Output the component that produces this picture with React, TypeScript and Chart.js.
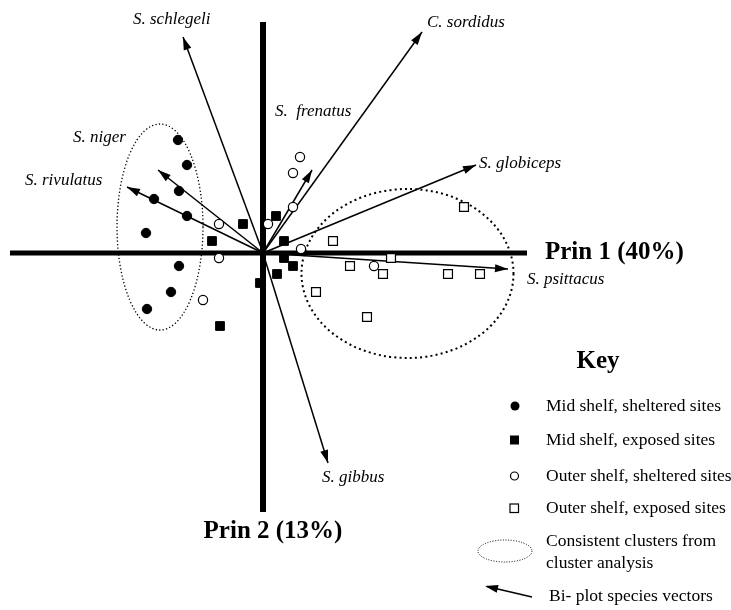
import React, { useEffect, useRef } from "react";
import { Chart, registerables } from "chart.js";

Chart.register(...registerables);

// ---- Data (principal component scores) ----
const midSheltered: [number, number][] = [
  [-0.85, 1.13], [-0.76, 0.88], [-0.84, 0.62], [-1.09, 0.54], [-0.76, 0.37],
  [-1.17, 0.2], [-0.84, -0.13], [-0.92, -0.39], [-1.16, -0.56],
];
const midExposed: [number, number][] = [
  [-0.2, 0.29], [0.13, 0.37], [-0.51, 0.12], [0.21, 0.12], [0.21, -0.05],
  [0.3, -0.13], [0.14, -0.21], [-0.03, -0.3], [-0.43, -0.73],
];
const outerSheltered: [number, number][] = [
  [0.37, 0.96], [0.3, 0.8], [0.3, 0.46], [0.05, 0.29], [-0.44, 0.29],
  [-0.44, -0.05], [0.38, 0.04], [-0.6, -0.47], [1.11, -0.13],
];
const outerExposed: [number, number][] = [
  [2.01, 0.46], [0.7, 0.12], [1.28, -0.05], [0.87, -0.13], [1.2, -0.21],
  [1.85, -0.21], [2.17, -0.21], [0.53, -0.39], [1.04, -0.64],
];

const vectorNames = [
  "S. schlegeli", "C. sordidus", "S.  frenatus", "S. globiceps",
  "S. psittacus", "S. gibbus", "S. niger", "S. rivulatus",
];
const vectorX = [-0.8, 1.59, 0.49, 2.13, 2.45, 0.65, -1.05, -1.36];
const vectorY = [2.16, 2.21, 0.83, 0.88, -0.16, -2.1, 0.83, 0.66];

// clusters: center x, center y, radius x, radius y
const clusterCX = [-1.03, 1.445];
const clusterCY = [0.26, -0.205];
const clusterRX = [0.43, 1.06];
const clusterRY = [1.03, 0.845];

const axisXExtent = [-2.53, 2.64];
const axisYExtent = [-2.59, 2.31];
const axisTitles = ["Prin 1 (40%)", "Prin 2 (13%)"];

const legendLabels = [
  "Mid shelf, sheltered sites",
  "Mid shelf, exposed sites",
  "Outer shelf, sheltered sites",
  "Outer shelf, exposed sites",
];

// ---- Styling / layout (not data) ----
const W = 731;
const H = 610;
const SERIF = '"Liberation Serif", "DejaVu Serif", serif';
// label offsets (px) from vector tips
const labelOffsets: [number, number][] = [
  [-50, -17], [5, -9], [-37, -58], [3, -1], [19, 11], [-6, 15], [-85, -32], [-102, -6],
];

const toPts = (arr: [number, number][]) => arr.map(([x, y]) => ({ x, y }));

const overlay = {
  id: "overlay",
  beforeDatasetsDraw(chart: any) {
    const ctx = chart.ctx;
    const xs = chart.scales.x;
    const ys = chart.scales.y;
    const widths = [1.3, 2];
    const dashes = [[1.3, 2.2], [2, 3.2]];
    ctx.save();
    for (let i = 0; i < clusterCX.length; i++) {
      const cx = xs.getPixelForValue(clusterCX[i]);
      const cy = ys.getPixelForValue(clusterCY[i]);
      const rx = Math.abs(xs.getPixelForValue(clusterCX[i] + clusterRX[i]) - cx);
      const ry = Math.abs(ys.getPixelForValue(clusterCY[i] + clusterRY[i]) - cy);
      ctx.beginPath();
      ctx.setLineDash(dashes[i]);
      ctx.lineWidth = widths[i];
      ctx.strokeStyle = "#000";
      ctx.ellipse(cx, cy, rx, ry, 0, 0, Math.PI * 2);
      ctx.stroke();
    }
    ctx.restore();
  },
  afterDatasetsDraw(chart: any) {
    const ctx = chart.ctx;
    const xs = chart.scales.x;
    const ys = chart.scales.y;
    const head = (tx: number, ty: number, fx: number, fy: number) => {
      const a = Math.atan2(ty - fy, tx - fx);
      const L = 13;
      const hw = 4;
      ctx.beginPath();
      ctx.moveTo(tx, ty);
      ctx.lineTo(tx - L * Math.cos(a) + hw * Math.sin(a), ty - L * Math.sin(a) - hw * Math.cos(a));
      ctx.lineTo(tx - L * Math.cos(a) - hw * Math.sin(a), ty - L * Math.sin(a) + hw * Math.cos(a));
      ctx.closePath();
      ctx.fill();
    };
    ctx.save();
    ctx.fillStyle = "#000";
    ctx.strokeStyle = "#000";
    // arrow heads + labels
    chart.data.datasets.forEach((ds: any, di: number) => {
      if (ds.kind !== "vector") return;
      const meta = chart.getDatasetMeta(di);
      const p0 = meta.data[0];
      const p1 = meta.data[1];
      head(p1.x, p1.y, p0.x, p0.y);
      const off = labelOffsets[ds.vi];
      ctx.font = `italic 17px ${SERIF}`;
      ctx.textAlign = "left";
      ctx.textBaseline = "middle";
      ctx.fillText(vectorNames[ds.vi], p1.x + off[0], p1.y + off[1]);
    });
    // axis titles
    ctx.font = `bold 25px ${SERIF}`;
    ctx.textBaseline = "middle";
    ctx.textAlign = "left";
    ctx.fillText(axisTitles[0], xs.getPixelForValue(axisXExtent[1]) + 18, ys.getPixelForValue(0));
    ctx.textAlign = "center";
    ctx.fillText(axisTitles[1], xs.getPixelForValue(0) + 10, ys.getPixelForValue(axisYExtent[0]) + 20);

    // Key
    ctx.font = `bold 25px ${SERIF}`;
    ctx.textAlign = "center";
    ctx.fillText("Key", 598, 362);
    ctx.font = `17.5px ${SERIF}`;
    ctx.textAlign = "left";
    const rows = [406, 440, 476, 508];
    legendLabels.forEach((t, i) => ctx.fillText(t, 546, rows[i]));
    ctx.fillText("Consistent clusters from", 546, 541);
    ctx.fillText("cluster analysis", 546, 563);
    ctx.fillText("Bi- plot species vectors", 549, 596);
    // legend markers
    ctx.lineWidth = 1.2;
    ctx.beginPath();
    ctx.arc(515, rows[0], 4.5, 0, Math.PI * 2);
    ctx.fill();
    ctx.fillRect(510, rows[1] - 4.5, 9, 9);
    ctx.beginPath();
    ctx.arc(514.5, rows[2], 4, 0, Math.PI * 2);
    ctx.stroke();
    ctx.strokeRect(510, rows[3] - 4, 8.5, 8.5);
    ctx.save();
    ctx.setLineDash([1, 1.6]);
    ctx.lineWidth = 1;
    ctx.beginPath();
    ctx.ellipse(505, 551, 27, 11, 0, 0, Math.PI * 2);
    ctx.stroke();
    ctx.restore();
    ctx.lineWidth = 1.5;
    ctx.beginPath();
    ctx.moveTo(532, 597);
    ctx.lineTo(487, 586.5);
    ctx.stroke();
    head(485, 586, 532, 597);
    ctx.restore();
  },
};

export default function App() {
  const ref = useRef<HTMLCanvasElement>(null);
  useEffect(() => {
    const pointSets: any[] = [
      { label: legendLabels[0], data: toPts(midSheltered), pointStyle: "circle", pointRadius: 4.7, backgroundColor: "#000", borderColor: "#000", borderWidth: 1, showLine: false, order: 0 },
      { label: legendLabels[1], data: toPts(midExposed), pointStyle: "rect", pointRadius: 6.2, backgroundColor: "#000", borderColor: "#000", borderWidth: 1, showLine: false, order: 0 },
      { label: legendLabels[2], data: toPts(outerSheltered), pointStyle: "circle", pointRadius: 4.6, backgroundColor: "#fff", borderColor: "#000", borderWidth: 1.2, showLine: false, order: 0 },
      { label: legendLabels[3], data: toPts(outerExposed), pointStyle: "rect", pointRadius: 6.3, backgroundColor: "#fff", borderColor: "#000", borderWidth: 1.2, showLine: false, order: 0 },
    ];
    const vectorSets: any[] = vectorNames.map((n, i) => ({
      label: n,
      kind: "vector",
      vi: i,
      data: [{ x: 0, y: 0 }, { x: vectorX[i], y: vectorY[i] }],
      showLine: true,
      borderColor: "#000",
      borderWidth: 1.5,
      pointRadius: 0,
      fill: false,
      order: 1,
    }));
    const axisSets: any[] = [
      { label: "axis1", data: [{ x: axisXExtent[0], y: 0 }, { x: axisXExtent[1], y: 0 }], showLine: true, borderColor: "#000", borderWidth: 5, pointRadius: 0, borderCapStyle: "butt", order: 2 },
      { label: "axis2", data: [{ x: 0, y: axisYExtent[0] }, { x: 0, y: axisYExtent[1] }], showLine: true, borderColor: "#000", borderWidth: 6, pointRadius: 0, borderCapStyle: "butt", order: 2 },
    ];
    const chart = new Chart(ref.current!, {
      type: "scatter",
      data: { datasets: [...pointSets, ...vectorSets, ...axisSets] },
      options: {
        animation: false,
        responsive: false,
        events: [],
        layout: { padding: 0, autoPadding: false },
        plugins: { legend: { display: false }, tooltip: { enabled: false } },
        scales: {
          x: { type: "linear", min: -2.63, max: 4.68, display: false },
          y: { type: "linear", min: -3.57, max: 2.53, display: false },
        },
      },
      plugins: [overlay],
    } as any);
    return () => chart.destroy();
  }, []);
  return (
    <div style={{ position: "absolute", left: 0, top: 0, width: W, height: H, background: "#fff" }}>
      <canvas ref={ref} width={W} height={H} style={{ display: "block" }} />
    </div>
  );
}
